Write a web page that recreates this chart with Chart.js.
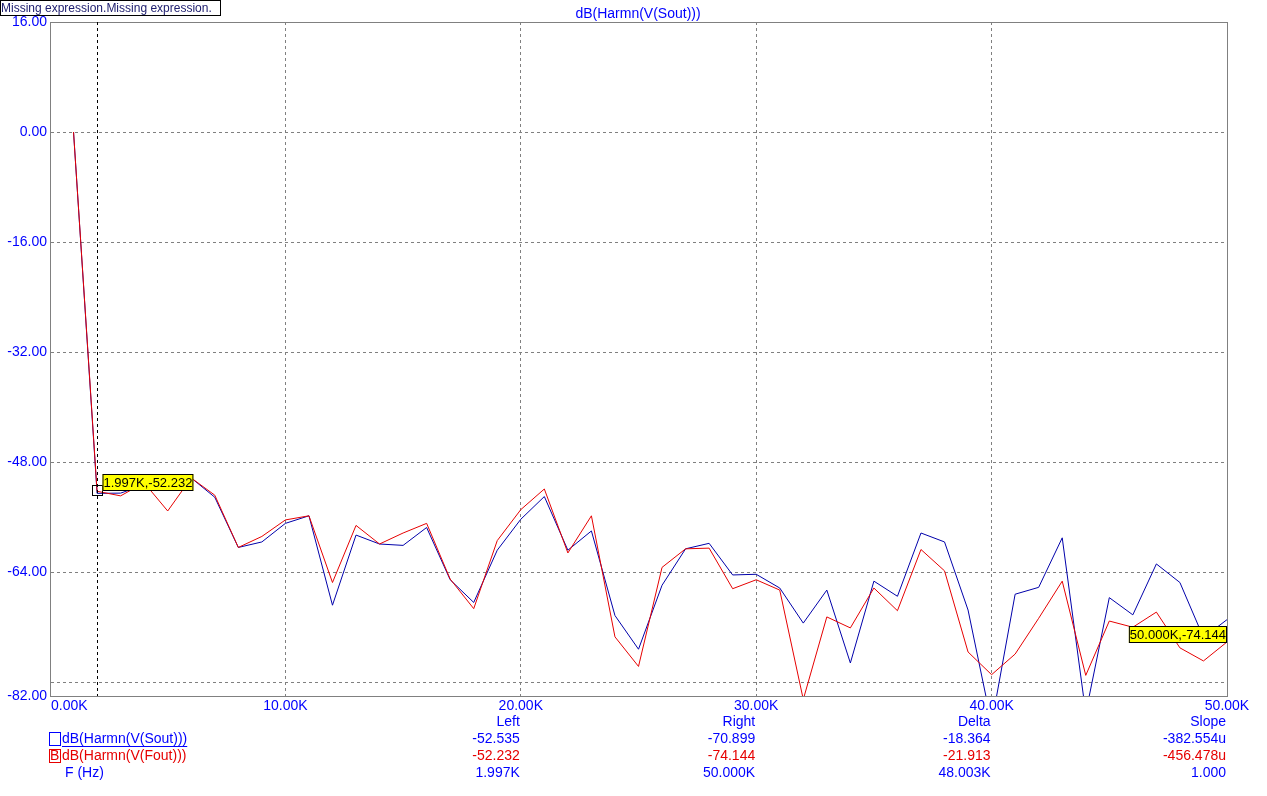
<!DOCTYPE html>
<html lang="en">
<head>
    <meta charset="UTF-8">
    <title>dB(Harmn(V(Sout)))</title>
    <script src="https://cdn.jsdelivr.net/npm/chart.js"></script>
    <style>
        *{
            margin: 0;
            padding: 0;
        }
        body, html{
            background-color: white;
            overflow: hidden;
        }
        #wrap{
            width: 1267px;
            height: 796px;
            position: relative;
        }
    </style>
</head>
<body>
    <div id="wrap"><canvas id="chart"></canvas></div>
    <script>
        // harmonic frequencies (Hz)
        const freq = [1000,2000,3000,4000,5000,6000,7000,8000,9000,10000,
            11000,12000,13000,14000,15000,16000,17000,18000,19000,20000,
            21000,22000,23000,24000,25000,26000,27000,28000,29000,30000,
            31000,32000,33000,34000,35000,36000,37000,38000,39000,40000,
            41000,42000,43000,44000,45000,46000,47000,48000,49000,50000]
        // dB(Harmn(V(Sout)))
        const sout = [0,-52.535,-52.5,-51.3,-51.6,-50.3,-53.1,-60.4,-59.6,-56.9,
            -55.8,-68.8,-58.6,-59.9,-60.1,-57.5,-65.1,-68.4,-60.8,-56.3,
            -53.0,-60.8,-58.0,-70.3,-75.2,-65.9,-60.6,-59.8,-64.4,-64.3,
            -66.3,-71.4,-66.6,-77.2,-65.3,-67.5,-58.3,-59.6,-69.5,-86.0,
            -67.2,-66.2,-59.0,-84.5,-67.7,-70.2,-62.8,-65.5,-73.5,-70.899]
        // dB(Harmn(V(Fout)))
        const fout = [0,-52.232,-52.9,-51.0,-55.1,-50.3,-52.8,-60.4,-58.8,-56.4,
            -55.8,-65.5,-57.2,-59.9,-58.3,-56.9,-65.0,-69.3,-59.4,-54.9,
            -51.9,-61.2,-55.8,-73.4,-77.7,-63.3,-60.6,-60.5,-66.4,-65.1,
            -66.6,-82.5,-70.5,-72.1,-66.3,-69.6,-60.7,-63.8,-75.6,-78.9,
            -75.9,-70.7,-65.3,-79.0,-71.1,-72.0,-69.8,-75.0,-76.9,-74.144]
        const yTicks = [16,0,-16,-32,-48,-64,-80,-82]
        const xTicks = [0,10000,20000,30000,40000,50000]
        const cursorA = [1997,-52.232]
        const cursorB = [50000,-74.144]
        const tableCols = ["Left","Right","Delta","Slope"]
        const tableSout = ["-52.535","-70.899","-18.364","-382.554u"]
        const tableFout = ["-52.232","-74.144","-21.913","-456.478u"]
        const tableF = ["1.997K","50.000K","48.003K","1.000"]

        const BLUE = "rgb(0,0,255)"
        const RED = "rgb(230,0,0)"
        const FONT = "14px 'Liberation Sans', Arial, sans-serif"

        const extras = {
            id: "extras",
            beforeDatasetsDraw(chart){
                const ctx = chart.ctx
                const a = chart.chartArea
                ctx.save()
                ctx.fillStyle = "white"
                ctx.fillRect(a.right - 1, a.top, 3, a.bottom - a.top)
                ctx.strokeStyle = "#808080"
                ctx.lineWidth = 1
                ctx.strokeRect(a.left + .5, a.top + .5, a.right - a.left, a.bottom - a.top)
                ctx.restore()
            },
            afterDraw(chart){
                const ctx = chart.ctx
                const a = chart.chartArea
                const xs = chart.scales.x
                const ys = chart.scales.y
                ctx.save()

                // top-left box
                ctx.fillStyle = "white"
                ctx.fillRect(0, 0, 221, 16)
                ctx.strokeStyle = "black"
                ctx.strokeRect(.5, .5, 220, 15)
                ctx.font = "12px 'Liberation Sans', Arial, sans-serif"
                ctx.fillStyle = "#202070"
                ctx.textBaseline = "middle"
                ctx.textAlign = "left"
                ctx.fillText("Missing expression.Missing expression.", 1, 8.5)

                // title
                ctx.font = FONT
                ctx.fillStyle = BLUE
                ctx.textAlign = "center"
                ctx.fillText("dB(Harmn(V(Sout)))", 638, 14)

                // x labels
                xTicks.forEach((v, i) => {
                    const px = xs.getPixelForValue(v)
                    ctx.textAlign = i === 0 ? "left" : "center"
                    ctx.fillText((v / 1000).toFixed(2) + "K", i === 0 ? px + 1 : px, 706)
                })

                // cursor A
                const cx = Math.round(xs.getPixelForValue(cursorA[0])) + .5
                const cy = ys.getPixelForValue(cursorA[1])
                ctx.strokeStyle = "black"
                ctx.setLineDash([3, 3])
                ctx.beginPath()
                ctx.moveTo(cx, a.top)
                ctx.lineTo(cx, a.bottom)
                ctx.stroke()
                ctx.setLineDash([])
                ctx.strokeRect(cx - 5, Math.round(cy) - 5.5, 10, 10)

                ctx.font = "13px 'Liberation Sans', Arial, sans-serif"
                const labA = (cursorA[0] / 1000).toFixed(3) + "K," + cursorA[1].toFixed(3)
                const wA = ctx.measureText(labA).width + 2
                ctx.fillStyle = "yellow"
                ctx.fillRect(cx + 5, 474, wA, 17)
                ctx.strokeRect(cx + 5.5, 474.5, wA - 1, 16)
                ctx.fillStyle = "black"
                ctx.textAlign = "left"
                ctx.fillText(labA, cx + 6, 483)

                // cursor B label
                const bx = xs.getPixelForValue(cursorB[0])
                const labB = (cursorB[0] / 1000).toFixed(3) + "K," + cursorB[1].toFixed(3)
                const wB = ctx.measureText(labB).width + 2
                ctx.fillStyle = "yellow"
                ctx.fillRect(bx - wB, 626, wB, 17)
                ctx.strokeRect(bx - wB + .5, 626.5, wB - 1, 16)
                ctx.fillStyle = "black"
                ctx.fillText(labB, bx - wB + 1, 635)

                // bottom table
                ctx.font = FONT
                const colX = [20000,30000,40000,50000].map(v => xs.getPixelForValue(v) - 1)
                ctx.textAlign = "right"
                tableCols.forEach((t, i) => {
                    ctx.fillStyle = BLUE
                    ctx.fillText(t, colX[i], 722)
                    ctx.fillText(tableSout[i], colX[i], 739)
                    ctx.fillStyle = RED
                    ctx.fillText(tableFout[i], colX[i], 756)
                    ctx.fillStyle = BLUE
                    ctx.fillText(tableF[i], colX[i], 773)
                })

                ctx.textAlign = "left"
                ctx.lineWidth = 1
                ctx.strokeStyle = BLUE
                ctx.strokeRect(49.5, 732.5, 11, 13)
                ctx.fillStyle = BLUE
                ctx.fillText("dB(Harmn(V(Sout)))", 62, 739)
                const w1 = ctx.measureText("dB(Harmn(V(Sout)))").width
                ctx.fillRect(62, 746, w1, 1)

                ctx.strokeStyle = RED
                ctx.strokeRect(49.5, 749.5, 11, 13)
                ctx.fillStyle = RED
                ctx.fillText("B", 50, 756)
                ctx.fillText("dB(Harmn(V(Fout)))", 62, 756)

                ctx.fillStyle = BLUE
                ctx.fillText("F (Hz)", 65, 773)
                ctx.restore()
            }
        }

        const config = {
            type: "line",
            data: {
                datasets: [{
                    label: "dB(Harmn(V(Fout)))",
                    data: freq.map((f, i) => ({x: f, y: fout[i]})),
                    borderColor: RED,
                    backgroundColor: RED,
                    borderWidth: 1,
                    pointRadius: 0,
                    tension: 0,
                    order: 0
                },
                {
                    label: "dB(Harmn(V(Sout)))",
                    data: freq.map((f, i) => ({x: f, y: sout[i]})),
                    borderColor: "rgb(0,0,170)",
                    backgroundColor: "rgb(0,0,170)",
                    borderWidth: 1,
                    pointRadius: 0,
                    tension: 0,
                    order: 1
                }]
            },
            options: {
                responsive: true,
                maintainAspectRatio: false,
                animation: false,
                layout: {padding: {left: 0, top: 22, right: 40, bottom: 0}},
                plugins: {legend: {display: false}, tooltip: {enabled: false}},
                scales: {
                    x: {
                        type: "linear",
                        min: 0,
                        max: 50000,
                        afterBuildTicks: s => { s.ticks = xTicks.map(v => ({value: v})) },
                        afterFit: s => { s.height = 100 },
                        ticks: {display: false},
                        grid: {color: "#808080", drawTicks: false},
                        border: {color: "#808080", dash: [3, 3]}
                    },
                    y: {
                        min: -82,
                        max: 16,
                        afterBuildTicks: s => { s.ticks = yTicks.map(v => ({value: v})) },
                        afterFit: s => { s.width = 50 },
                        ticks: {
                            color: BLUE,
                            padding: 3,
                            autoSkip: false,
                            font: {family: "'Liberation Sans', Arial, sans-serif", size: 14},
                            callback: v => v === -80 ? "" : v.toFixed(2)
                        },
                        grid: {color: "#808080", drawTicks: false},
                        border: {color: "#808080", dash: [3, 3]}
                    }
                }
            },
            plugins: [extras]
        }

        const chart = new Chart(document.getElementById("chart"), config)
    </script>
</body>
</html>
